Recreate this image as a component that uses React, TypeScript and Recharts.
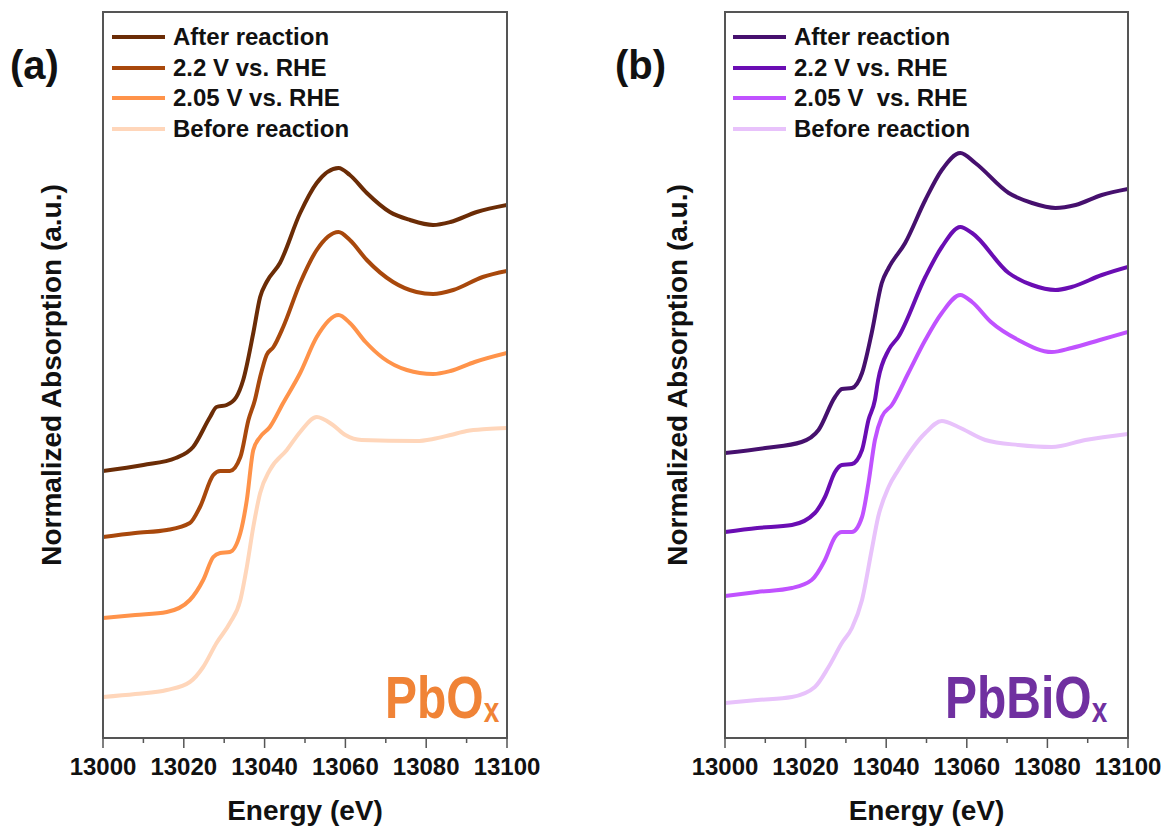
import React from 'react';
import { LineChart, Line, XAxis, YAxis } from 'recharts';

type Pt = [number, number];

// XANES spectra, Pb L3 edge: [energy (eV), normalized absorption + stack offset]
const pbAfter: Pt[] = [
  [13000, 2.67], [13010, 2.73], [13018, 2.8], [13022.3, 2.91], [13026.5, 3.21], [13028.1, 3.31],
  [13030.6, 3.33], [13033, 3.41], [13034.7, 3.58], [13037.2, 4.05], [13038.9, 4.41], [13040.5, 4.56],
  [13043.8, 4.75], [13048.8, 5.25], [13052.9, 5.55], [13058.3, 5.7], [13061.1, 5.63], [13065.3, 5.45],
  [13071, 5.26], [13076, 5.18], [13081.7, 5.13], [13086, 5.16], [13092.5, 5.26], [13100, 5.33],
];
const pb22: Pt[] = [
  [13000, 2.01], [13008, 2.05], [13015.8, 2.08], [13021.5, 2.15], [13024, 2.31], [13027.3, 2.63],
  [13029, 2.67], [13031.4, 2.67], [13034, 2.81], [13036, 3.18], [13037.6, 3.38], [13038.9, 3.61],
  [13040.5, 3.83], [13042.2, 3.91], [13044.6, 4.11], [13048.8, 4.55], [13052.9, 4.88], [13058.3, 5.06],
  [13061.1, 4.98], [13065.3, 4.78], [13071.8, 4.56], [13077.6, 4.46], [13081.7, 4.44], [13086.7, 4.48],
  [13094, 4.61], [13100, 4.67],
];
const pb205: Pt[] = [
  [13000, 1.2], [13008, 1.23], [13015.8, 1.26], [13021.5, 1.38], [13024.8, 1.58], [13027.3, 1.81],
  [13029, 1.85], [13031.4, 1.86], [13034, 2.05], [13035.6, 2.38], [13037.2, 2.88], [13038.9, 3.01],
  [13041.3, 3.11], [13044.6, 3.35], [13048.8, 3.65], [13052.9, 4.01], [13058.3, 4.23], [13061.1, 4.15],
  [13065, 3.96], [13069.3, 3.8], [13075.2, 3.68], [13081.7, 3.64], [13086, 3.67], [13092, 3.76],
  [13100, 3.85],
];
const pbBefore: Pt[] = [
  [13000, 0.41], [13008, 0.44], [13015.8, 0.48], [13021.5, 0.56], [13024.8, 0.71], [13028.1, 0.95],
  [13031.4, 1.15], [13034, 1.38], [13035.6, 1.71], [13037.2, 2.11], [13038.9, 2.45], [13041.3, 2.68],
  [13045.5, 2.88], [13048.8, 3.06], [13052.9, 3.21], [13056.9, 3.13], [13060, 3.03], [13064, 2.98],
  [13077.6, 2.97], [13081.7, 2.99], [13086, 3.03], [13090, 3.07], [13095, 3.09], [13100, 3.1],
];

const pbbiAfter: Pt[] = [
  [13000, 2.85], [13010, 2.9], [13019, 2.96], [13023.2, 3.08], [13027.3, 3.41], [13029, 3.49],
  [13031.5, 3.5], [13034, 3.65], [13036.4, 4.05], [13038.9, 4.55], [13040.6, 4.7], [13044.7, 4.95],
  [13049.7, 5.38], [13053.8, 5.68], [13058.4, 5.85], [13062.1, 5.75], [13070.4, 5.45], [13076.2, 5.35],
  [13082, 5.3], [13087, 5.33], [13093.5, 5.43], [13100, 5.49],
];
const pbbi22: Pt[] = [
  [13000, 2.06], [13008, 2.1], [13016.6, 2.13], [13022.3, 2.25], [13024.8, 2.41], [13027.3, 2.66],
  [13029, 2.73], [13031.5, 2.74], [13034, 2.88], [13035.6, 3.18], [13037.2, 3.38], [13038, 3.58],
  [13040.6, 3.88], [13043, 4.01], [13049.7, 4.61], [13053.8, 4.91], [13058.4, 5.11], [13061.3, 5.05],
  [13070.4, 4.65], [13076.2, 4.53], [13082, 4.48], [13086, 4.51], [13093.5, 4.63], [13100, 4.71],
];
const pbbi205: Pt[] = [
  [13000, 1.42], [13008, 1.46], [13016.6, 1.5], [13021.5, 1.58], [13024.8, 1.78], [13027.3, 2.01],
  [13029, 2.06], [13031.5, 2.06], [13034, 2.21], [13035.6, 2.55], [13037.2, 2.98], [13038.9, 3.21],
  [13041.4, 3.33], [13045.5, 3.65], [13049.7, 3.98], [13053.8, 4.25], [13058.4, 4.43], [13061.3, 4.36],
  [13066, 4.16], [13072.8, 3.98], [13081.1, 3.86], [13086, 3.9], [13093, 3.98], [13100, 4.06],
];
const pbbiBefore: Pt[] = [
  [13000, 0.35], [13008, 0.38], [13016.6, 0.41], [13022.3, 0.51], [13025.7, 0.71], [13029, 0.95],
  [13031.5, 1.1], [13034, 1.38], [13036.4, 1.88], [13038, 2.21], [13040.6, 2.51], [13043, 2.68],
  [13049.7, 3.05], [13053.8, 3.17], [13057.9, 3.11], [13064.6, 2.98], [13072.8, 2.93], [13081.1, 2.91],
  [13089.4, 2.98], [13100, 3.04],
];

const pbNames = ['After reaction', '2.2 V vs. RHE', '2.05 V vs. RHE', 'Before reaction'];
const pbbiNames = ['After reaction', '2.2 V vs. RHE', '2.05 V  vs. RHE', 'Before reaction'];
const pbColors = ['#6B2C06', '#A8480C', '#FF934A', '#FFD6BA'];
const pbbiColors = ['#46106E', '#6A0DB3', '#C052FF', '#E8C2FB'];

const xTicks = [13000, 13010, 13020, 13030, 13040, 13050, 13060, 13070, 13080, 13090, 13100];
const xDomain: [number, number] = [13000, 13100];
const yDomain: [number, number] = [0, 7.26];

const FONT = '"Liberation Sans", Arial, Helvetica, sans-serif';
const AXIS = '#555';
const H = 829;
const TOP = 12;
const X_AXIS_H = 91;

// panel geometry: chart offset, chart width, y-axis width, right margin
const panelA = { left: 0, width: 560, axisWidth: 103, rightMargin: 53 };
const panelB = { left: 629, width: 536, axisWidth: 96, rightMargin: 37 };

const toRows = (pts: Pt[]) => pts.map(([e, v]) => ({ e, v }));

function EnergyTick({ x, y, payload }: any) {
  const major = payload.value % 20 === 0;
  return (
    <g>
      <line x1={x} x2={x} y1={y} y2={y + (major ? 10 : 5)} stroke={AXIS} strokeWidth={1.5} />
      {major && (
        <text x={x} y={y + 37} textAnchor="middle" fontFamily={FONT} fontWeight="bold" fontSize={24} fill="#111">
          {payload.value}
        </text>
      )}
    </g>
  );
}

interface Series {
  name: string;
  color: string;
  pts: Pt[];
}

function SeriesKey({ left, items }: { left: number; items: Series[] }) {
  return (
    <div style={{ position: 'absolute', left, top: 22, fontFamily: FONT, fontWeight: 'bold', fontSize: 24, color: '#111' }}>
      {items.map((it) => (
        <div key={it.name} style={{ display: 'flex', alignItems: 'center', height: 30.5, whiteSpace: 'pre' }}>
          <div style={{ width: 53, height: 4, background: it.color, marginRight: 8 }} />
          <span style={{ lineHeight: '30.5px' }}>{it.name}</span>
        </div>
      ))}
    </div>
  );
}

interface Geo {
  left: number;
  width: number;
  axisWidth: number;
  rightMargin: number;
}

function PlotBox({ geo }: { geo: Geo }) {
  return (
    <rect
      x={geo.left + geo.axisWidth}
      y={TOP}
      width={geo.width - geo.axisWidth - geo.rightMargin}
      height={H - TOP - X_AXIS_H}
      fill="none"
      stroke={AXIS}
      strokeWidth={2}
    />
  );
}

function Panel({ geo, series }: { geo: Geo; series: Series[] }) {
  // draw lightest trace first so the darker ones sit on top
  const drawOrder = [...series].reverse();
  const frame = { stroke: AXIS, strokeWidth: 2 };
  return (
    <div style={{ position: 'absolute', left: geo.left, top: 0, width: geo.width, height: H }}>
      <LineChart
        width={geo.width}
        height={H}
        data={toRows(series[0].pts)}
        margin={{ top: TOP, right: geo.rightMargin, bottom: 0, left: 0 }}
      >
        <XAxis
          dataKey="e"
          type="number"
          domain={xDomain}
          ticks={xTicks}
          allowDataOverflow
          height={X_AXIS_H}
          tickSize={0}
          tickMargin={0}
          tickLine={false}
          axisLine={frame}
          tick={<EnergyTick />}
          interval={0}
          label={{
            value: 'Energy (eV)',
            position: 'insideBottom',
            offset: 9,
            style: { fontFamily: FONT, fontWeight: 'bold', fontSize: 28, fill: '#111' },
          }}
        />
        <YAxis
          type="number"
          domain={yDomain}
          allowDataOverflow
          width={geo.axisWidth}
          tick={false}
          tickLine={false}
          axisLine={frame}
          label={{
            value: 'Normalized Absorption (a.u.)',
            angle: -90,
            position: 'center',
            style: { fontFamily: FONT, fontWeight: 'bold', fontSize: 28, fill: '#111' },
          }}
        />
        {drawOrder.map((s) => (
          <Line
            key={s.name}
            data={toRows(s.pts)}
            dataKey="v"
            name={s.name}
            type="monotone"
            stroke={s.color}
            strokeWidth={4}
            dot={false}
            activeDot={false}
            isAnimationActive={false}
          />
        ))}
      </LineChart>
    </div>
  );
}

export default function App() {
  const pbSeries: Series[] = [pbAfter, pb22, pb205, pbBefore].map((pts, i) => ({
    name: pbNames[i],
    color: pbColors[i],
    pts,
  }));
  const pbbiSeries: Series[] = [pbbiAfter, pbbi22, pbbi205, pbbiBefore].map((pts, i) => ({
    name: pbbiNames[i],
    color: pbbiColors[i],
    pts,
  }));

  return (
    <div style={{ position: 'absolute', left: 0, top: 0, width: 1165, height: H, background: '#fff', overflow: 'hidden' }}>
      <Panel geo={panelA} series={pbSeries} />
      <Panel geo={panelB} series={pbbiSeries} />
      <SeriesKey left={112} items={pbSeries} />
      <SeriesKey left={733} items={pbbiSeries} />
      <svg width={1165} height={H} style={{ position: 'absolute', left: 0, top: 0, pointerEvents: 'none' }}>
        <PlotBox geo={panelA} />
        <PlotBox geo={panelB} />
        <text x={10} y={79} fontFamily={FONT} fontWeight="bold" fontSize={40} fill="#111">(a)</text>
        <text x={615} y={79} fontFamily={FONT} fontWeight="bold" fontSize={40} fill="#111">(b)</text>
        <text transform="translate(385,718) scale(1,1.22)" fontFamily={FONT} fontWeight="bold" fill="#F08336">
          <tspan fontSize={48}>PbO</tspan>
          <tspan fontSize={28} dy={3}>x</tspan>
        </text>
        <text transform="translate(945,718) scale(1,1.22)" fontFamily={FONT} fontWeight="bold" fill="#7030A0">
          <tspan fontSize={48}>PbBiO</tspan>
          <tspan fontSize={28} dy={3}>x</tspan>
        </text>
      </svg>
    </div>
  );
}
